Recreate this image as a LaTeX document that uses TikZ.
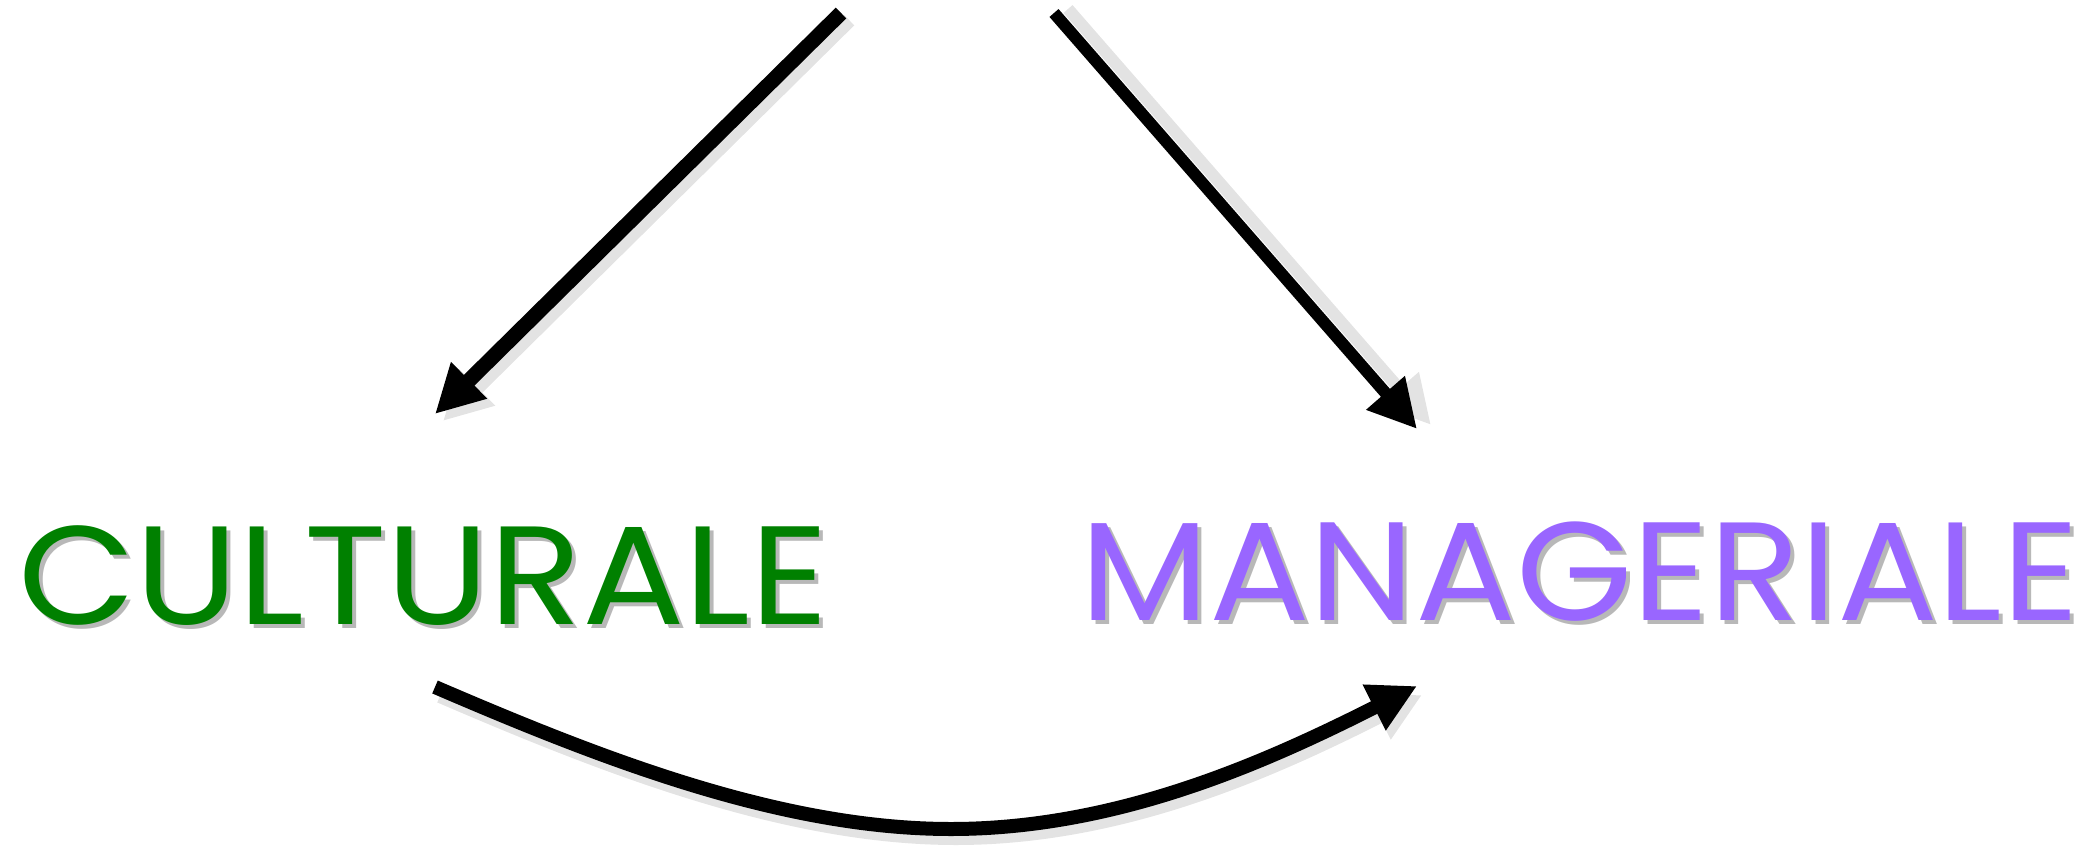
\documentclass[tikz,border=0pt]{standalone}
\usepackage{fontspec}
\setmainfont{Poppins}
\usetikzlibrary{arrows.meta}
\definecolor{cgreen}{HTML}{008000}
\definecolor{cpurple}{HTML}{9966FF}
\definecolor{shadowgray}{HTML}{E3E3E3}
\definecolor{textshadow}{HTML}{9A9A9A}
\tikzset{
  arr/.style={line width=#1, -{Triangle[length=48pt,width=48pt]}},
  shadowed/.style={draw=shadowgray, transform canvas={shift={#1}}},
  lbl/.style={inner sep=0pt, anchor=base west, font=\fontsize{140}{140}\selectfont},
}
\begin{document}
\begin{tikzpicture}[x=1pt,y=-1pt]
\useasboundingbox (0,0) rectangle (2100,850);
\coordinate (s1) at (841,13);
\coordinate (t1) at (435,414);
\coordinate (s2) at (1054,13);
\coordinate (t2) at (1417,429);
\coordinate (s3) at (435,687);
\coordinate (m3) at (951,829);
\coordinate (t3) at (1417,686);
% shadows
\draw[arr=15pt, shadowed={(8,7)}] (s1) -- (t1);
\draw[arr=12pt, shadowed={(14,-4)}] (s2) -- (t2);
\draw[arr=14pt, shadowed={(5,9)}] (s3) .. controls (600,758) and (780,829) .. (m3) .. controls (1120,829) and (1270,760) .. (t3);
% texts
\node[lbl, text=textshadow, opacity=0.7] at (22,628) {\scalebox{1.088}[1]{CULTURALE}};
\node[lbl, text=cgreen] (cult) at (18,624) {\scalebox{1.088}[1]{CULTURALE}};
\node[lbl, text=textshadow, opacity=0.7] at (1084,624) {\scalebox{1.069}[1]{MANAGERIALE}};
\node[lbl, text=cpurple] (man) at (1080,620) {\scalebox{1.069}[1]{MANAGERIALE}};
% arrows
\draw[arr=15pt, draw=black] (s1) -- (t1);
\draw[arr=12pt, draw=black] (s2) -- (t2);
\draw[arr=14pt, draw=black] (s3) .. controls (600,758) and (780,829) .. (m3) .. controls (1120,829) and (1270,760) .. (t3);
\end{tikzpicture}
\end{document}
